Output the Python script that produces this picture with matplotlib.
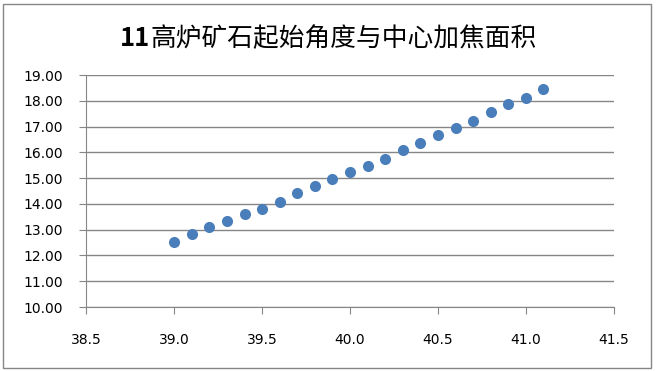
import matplotlib
matplotlib.use("Agg")
import matplotlib.pyplot as plt
from matplotlib.patches import Rectangle
from matplotlib.ticker import FormatStrFormatter, MultipleLocator

plt.rcParams['font.family'] = ['Noto Sans CJK SC', 'DejaVu Sans']

# start angle vs. centre coke area
angle = [39.0, 39.1, 39.2, 39.3, 39.4, 39.5, 39.6, 39.7, 39.8, 39.9, 40.0,
         40.1, 40.2, 40.3, 40.4, 40.5, 40.6, 40.7, 40.8, 40.9, 41.0, 41.1]
area = [12.54, 12.82, 13.09, 13.35, 13.62, 13.81, 14.07, 14.42, 14.70, 14.97, 15.24,
        15.48, 15.75, 16.10, 16.37, 16.69, 16.95, 17.20, 17.55, 17.88, 18.12, 18.47]
title_num = "11"
title_txt = "高炉矿石起始角度与中心加焦面积"

fig = plt.figure(figsize=(6.56, 3.71), dpi=100)
ax = fig.add_axes([0.1316, 0.1725, 0.804, 0.6253])

ax.plot(angle, area, "o", color="#4A7EBB", markersize=8, markeredgewidth=0)

ax.set_xlim(38.5, 41.5)
ax.set_ylim(10, 19)
ax.xaxis.set_major_locator(MultipleLocator(0.5))
ax.yaxis.set_major_locator(MultipleLocator(1))
ax.xaxis.set_major_formatter(FormatStrFormatter("%.1f"))
ax.yaxis.set_major_formatter(FormatStrFormatter("%.2f"))
ax.grid(axis="y", color="#868686", linewidth=1)
ax.set_axisbelow(True)

for side in ["top", "right"]:
    ax.spines[side].set_visible(False)
for side in ["left", "bottom"]:
    ax.spines[side].set_color("#868686")
ax.tick_params(direction="out", length=5, color="#868686", labelcolor="black")
for lab in ax.get_xticklabels() + ax.get_yticklabels():
    lab.set_family("DejaVu Sans")
    lab.set_fontsize(10)
ax.tick_params(axis="x", pad=14)
ax.tick_params(axis="y", pad=12)

# title: bold number followed by regular chinese text, centred as a whole
fig.canvas.draw()
r = fig.canvas.get_renderer()
t1 = fig.text(0, 0.895, title_num, va="center", fontsize=18.5, fontweight="bold")
t2 = fig.text(0, 0.895, title_txt, va="center", fontsize=18.5)
w1 = t1.get_window_extent(r).width
w2 = t2.get_window_extent(r).width
fw = fig.get_figwidth() * fig.dpi
x0 = (fw - w1 - w2) / 2
t1.set_x(x0 / fw)
t2.set_x((x0 + w1) / fw)

# outer chart border
fig.patches.append(Rectangle((3 / 656, 3 / 371), 648 / 656, 364 / 371, transform=fig.transFigure,
                             fill=False, edgecolor="#868686", linewidth=1))

fig.savefig("out.png", dpi=100)
